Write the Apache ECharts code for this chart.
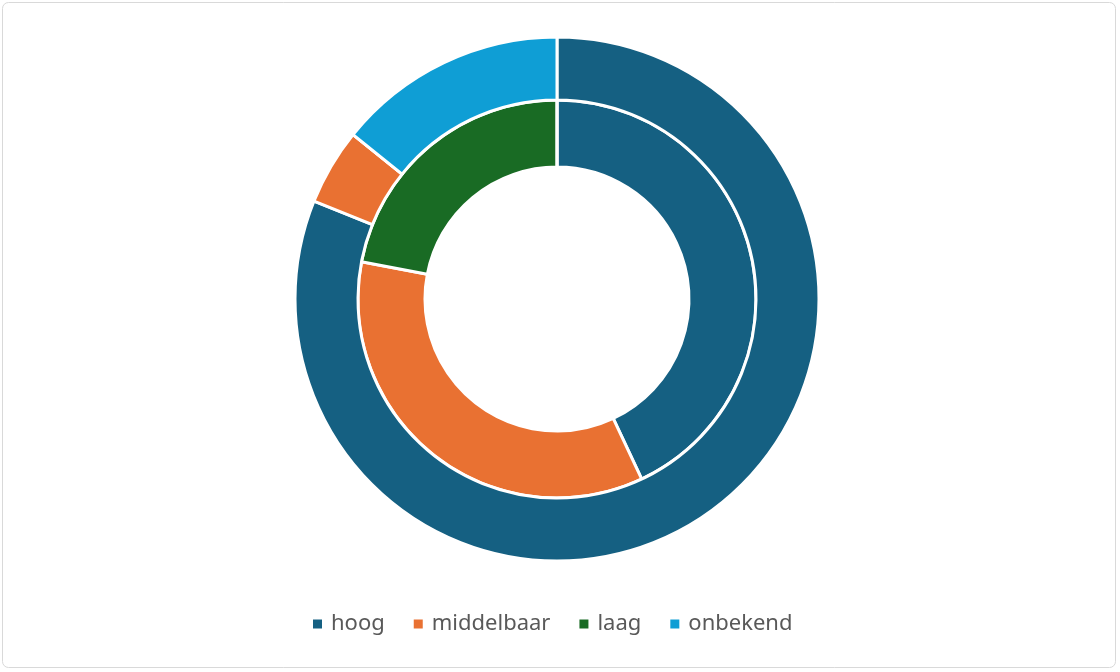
<!DOCTYPE html>
<html>
<head>
<meta charset="utf-8">
<script src="https://cdn.jsdelivr.net/npm/echarts@6/dist/echarts.min.js"></script>
<style>
html,body{margin:0;padding:0;background:#fff;}
#chart{width:1120px;height:672px;}
</style>
</head>
<body>
<div id="chart"></div>
<script>
const categories = ['hoog', 'middelbaar', 'laag', 'onbekend'];
const colors = ['#156082', '#E97132', '#196B24', '#0F9ED5'];
const innerValues = [43.0, 35.0, 22.0, 0];
const outerValues = [81.1, 4.7, 0, 14.2];

function toData(vals) {
  return categories.map((c, i) => ({ name: c, value: vals[i], itemStyle: { color: colors[i] } }));
}

const chart = echarts.init(document.getElementById('chart'));
chart.setOption({
  animation: false,
  backgroundColor: '#ffffff',
  color: colors,
  graphic: [{
    type: 'rect',
    shape: { x: 2.5, y: 2.5, width: 1113, height: 665, r: 6 },
    style: { fill: 'none', stroke: '#d9d9d9', lineWidth: 1 },
    silent: true
  }],
  legend: {
    data: categories,
    left: 306,
    top: 608,
    icon: 'rect',
    itemWidth: 11,
    itemHeight: 11,
    itemGap: 27,
    textStyle: { color: '#595959', fontSize: 22, fontFamily: 'Noto Sans', padding: [0, 0, 0, 3] }
  },
  series: [
    {
      type: 'pie',
      center: [557, 299],
      radius: [132, 199],
      startAngle: 90,
      clockwise: true,
      label: { show: false },
      labelLine: { show: false },
      itemStyle: { borderColor: '#ffffff', borderWidth: 3 },
      data: toData(innerValues)
    },
    {
      type: 'pie',
      center: [557, 299],
      radius: [199, 262],
      startAngle: 90,
      clockwise: true,
      label: { show: false },
      labelLine: { show: false },
      itemStyle: { borderColor: '#ffffff', borderWidth: 3 },
      data: toData(outerValues)
    }
  ]
});
</script>
</body>
</html>
